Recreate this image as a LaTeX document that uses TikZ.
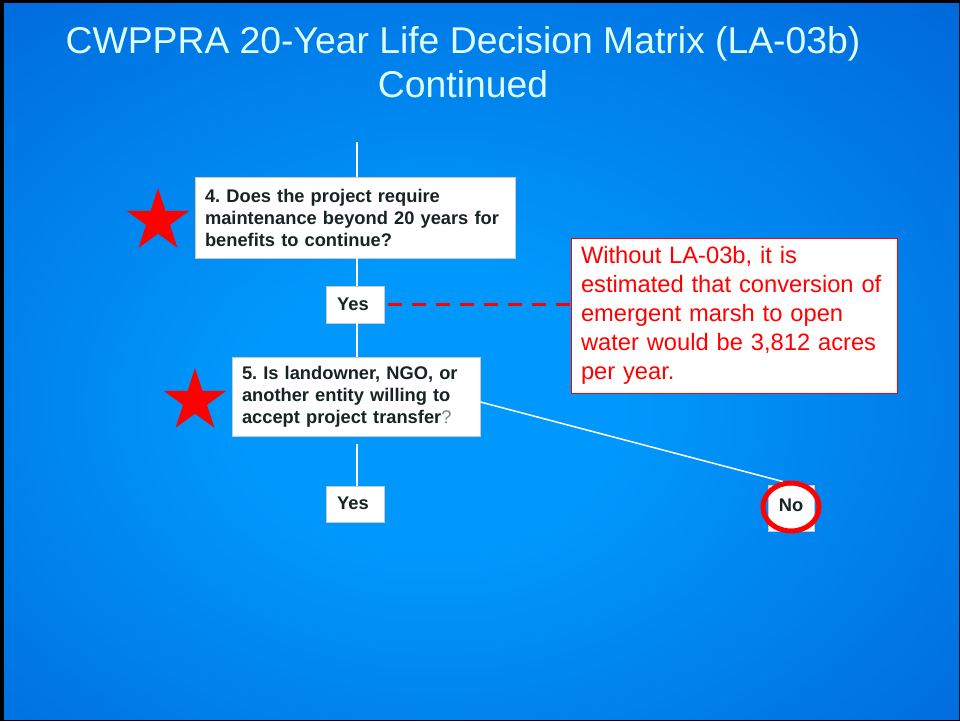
\documentclass[tikz,border=0pt]{standalone}
\usepackage{fontspec}
\setmainfont{Liberation Sans}
\usetikzlibrary{shapes.geometric,calc}
\definecolor{bgin}{RGB}{0,152,252}
\definecolor{bgmid}{RGB}{0,118,228}
\definecolor{bgout}{RGB}{0,78,200}
\definecolor{titlec}{RGB}{220,255,255}
\definecolor{boxtext}{RGB}{25,35,35}
\definecolor{boxedge}{RGB}{200,200,200}
\definecolor{redc}{RGB}{255,0,0}
\pgfdeclareradialshading{bgshade}{\pgfpoint{-3bp}{-4bp}}{color(0bp)=(bgin); color(10bp)=(bgin); color(30bp)=(bgmid); color(52bp)=(bgout); color(75bp)=(bgout)}
\begin{document}
\frenchspacing
\begin{tikzpicture}[x=1pt,y=-1pt,
  qbox/.style={draw=boxedge, line width=0.8pt, fill=white, text=boxtext, align=left,
    font=\bfseries\fontsize{18.3}{22}\selectfont, inner xsep=10pt, inner ysep=0pt, anchor=center},
  ansbox/.style={draw=boxedge, line width=0.8pt, fill=white, text=boxtext,
    font=\bfseries\fontsize{18.3}{22}\selectfont, inner sep=0pt, anchor=center},
  link/.style={draw=white, line width=1.5pt},
  redstar/.style={star, star points=5, star point ratio=2.618, fill=redc, draw=none, inner sep=0pt, minimum size=66pt}]
\useasboundingbox (0,0) rectangle (960,721);
\fill[black] (0,0) rectangle (960,721);
\shade[shading=bgshade] (4,3) rectangle (959,719);
% title
\node[text=titlec, align=center, font=\fontsize{37.3}{44}\selectfont] (title) at (463,62) {CWPPRA 20-Year Life Decision Matrix (LA-03b)\\Continued};
% boxes
\node[qbox, text width=300pt, minimum height=81pt] (q4) at (355,217.5) {4. Does the project require\\maintenance beyond 20 years for\\benefits to continue?};
\node[qbox, text width=228pt, minimum height=79pt] (q5) at (356,396.5) {5. Is landowner, NGO, or\\another entity willing to\\accept project transfer{\mdseries\color{gray}?}};
\node[ansbox, minimum width=58pt, minimum height=37pt] (yes1) at (355,304.5) {\hspace*{-4pt}Yes};
\node[ansbox, minimum width=58pt, minimum height=36pt] (yes2) at (355,504) {\hspace*{-4pt}\raisebox{2.5pt}{Yes}};
\node[ansbox, minimum width=46pt, minimum height=46pt] (no) at (791,508) {\raisebox{5pt}{No}};
\node[ellipse, draw=redc, line width=5pt, minimum width=56pt, minimum height=48pt, inner sep=0pt] (noring) at (791,507) {};
\node[draw=redc, line width=0.8pt, fill=white, text=redc, align=left, text width=306pt,
  inner xsep=10pt, inner ysep=0pt, minimum height=155pt, font=\fontsize{23.7}{29}\selectfont] (note) at (734,315.5)
  {Without LA-03b, it is\\estimated that conversion of\\emergent marsh to open\\water would be 3,812 acres\\per year.};
% stars
\node[redstar] (s4) at (158,221) {};
\node[redstar] (s5) at (195,401) {};
% connectors
\coordinate (top) at (357,142);
\coordinate (low) at (357,444);
\draw[link] (top) -- (top |- q4.north);
\draw[link] (q4.south -| top) -- (yes1.north -| top);
\draw[link] (yes1.south -| top) -- (q5.north -| top);
\draw[link] (low) -- (yes2.north -| low);
\draw[link] ($(q5.east)+(0,5.5)$) -- (noring.108);
\draw[redc, line width=3pt, dash pattern=on 14pt off 10pt] ($(yes1.east)+(4,0)$) -- (note.west |- yes1.east);
\end{tikzpicture}
\end{document}
